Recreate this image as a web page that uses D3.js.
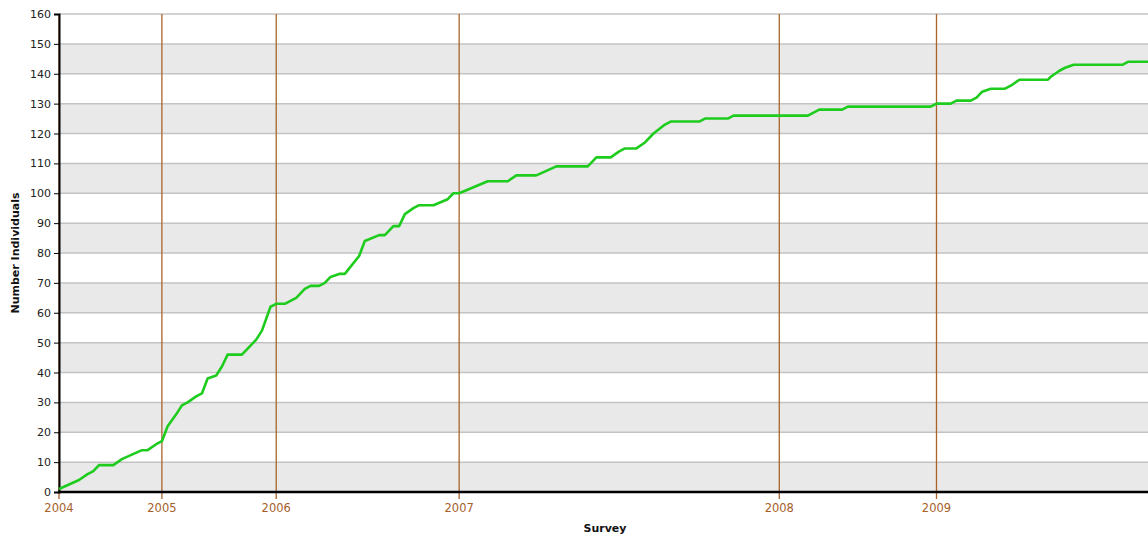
<!DOCTYPE html>
<html>
<head>
<meta charset="utf-8">
<script src="https://cdn.jsdelivr.net/npm/d3@7"></script>
<style>
  html, body { margin: 0; padding: 0; background: #fff; }
  svg { display: block; }
  text { font-family: "DejaVu Sans", Verdana, sans-serif; }
</style>
</head>
<body>
<svg id="chart" width="1148" height="540"></svg>
<script>
// Cumulative count of individuals, sampled at the surveys where the curve changes course
const surveyIndex = [0, 7, 10, 12, 14, 19, 22, 29, 31, 34, 36, 38, 41, 43, 45, 48, 50, 52, 55, 57,
  59, 64, 66, 69, 71, 74, 76, 79, 83, 86, 88, 91, 93, 95, 98, 100, 105, 107, 112, 114,
  117, 119, 121, 124, 126, 131, 136, 138, 140, 150, 157, 160, 167, 174, 185, 188, 193, 196, 198, 202,
  205, 208, 212, 214, 224, 226, 234, 236, 262, 266, 274, 276, 305, 307, 312, 314, 319, 321, 323, 326,
  331, 333, 336, 346, 347, 350, 352, 355, 372, 374, 381];
const individuals = [1, 4, 6, 7, 9, 9, 11, 14, 14, 16, 17, 22, 26, 29, 30, 32, 33, 38, 39, 42,
  46, 46, 48, 51, 54, 62, 63, 63, 65, 68, 69, 69, 70, 72, 73, 73, 79, 84, 86, 86,
  89, 89, 93, 95, 96, 96, 98, 100, 100, 104, 104, 106, 106, 109, 109, 112, 112, 114, 115, 115,
  117, 120, 123, 124, 124, 125, 125, 126, 126, 128, 128, 129, 129, 130, 130, 131, 131, 132, 134, 135,
  135, 136, 138, 138, 139, 141, 142, 143, 143, 144, 144];

// First survey of each year
const yearLabels = ["2004", "2005", "2006", "2007", "2008", "2009"];
const yearStart = [0, 36, 76, 140, 252, 307];

const yTicks = [0, 10, 20, 30, 40, 50, 60, 70, 80, 90, 100, 110, 120, 130, 140, 150, 160];
const lastSurvey = 381;

const margin = { left: 59, top: 14, right: 0, bottom: 48 };
const width = 1148, height = 540;
const svg = d3.select("#chart");

const x = d3.scaleLinear().domain([0, lastSurvey]).range([margin.left, width - margin.right]);
const y = d3.scaleLinear().domain([0, 160]).range([height - margin.bottom, margin.top]);

// alternating horizontal bands
const bands = d3.range(0, 160, 20);
svg.append("g").selectAll("rect").data(bands).join("rect")
  .attr("x", margin.left).attr("width", width - margin.left)
  .attr("y", d => y(d + 10)).attr("height", d => y(d) - y(d + 10))
  .attr("fill", "#e9e9e9");

// horizontal gridlines
svg.append("g").selectAll("line").data(yTicks.slice(1)).join("line")
  .attr("x1", margin.left).attr("x2", width)
  .attr("y1", d => y(d)).attr("y2", d => y(d))
  .attr("stroke", "#c3c3c3").attr("stroke-width", 1.5);

// year markers
const years = svg.append("g");
years.selectAll("line").data(yearStart).join("line")
  .attr("x1", d => x(d)).attr("x2", d => x(d))
  .attr("y1", margin.top).attr("y2", y(0) + 7)
  .attr("stroke", "#a8642c").attr("stroke-width", 1.3);
years.selectAll("text").data(yearStart).join("text")
  .attr("x", d => x(d)).attr("y", y(0) + 20)
  .attr("text-anchor", "middle")
  .attr("font-size", 11.5).attr("fill", "#a5602a")
  .text((d, i) => yearLabels[i]);

// y axis
const yAxis = svg.append("g")
  .attr("transform", `translate(${margin.left},0)`)
  .call(d3.axisLeft(y).tickValues(yTicks).tickSize(5).tickPadding(3));
yAxis.select(".domain").attr("stroke", "#000").attr("stroke-width", 2);
yAxis.selectAll(".tick line").attr("stroke", "#000");
yAxis.selectAll(".tick text")
  .attr("font-family", '"DejaVu Sans", Verdana, sans-serif')
  .attr("font-size", 11).attr("fill", "#222");

// x axis baseline
svg.append("line")
  .attr("x1", margin.left - 1).attr("x2", width)
  .attr("y1", y(0)).attr("y2", y(0))
  .attr("stroke", "#000").attr("stroke-width", 2.5);

// cumulative curve
const pts = surveyIndex.map((s, i) => [s, individuals[i]]);
svg.append("path")
  .datum(pts)
  .attr("fill", "none")
  .attr("stroke", "#1ecc1e")
  .attr("stroke-width", 2.6)
  .attr("stroke-linejoin", "round")
  .attr("d", d3.line().x(d => x(d[0])).y(d => y(d[1])));

// axis titles
svg.append("text")
  .attr("transform", `translate(19,${(margin.top + y(0)) / 2}) rotate(-90)`)
  .attr("text-anchor", "middle")
  .attr("font-size", 11).attr("font-weight", "bold").attr("fill", "#111")
  .text("Number Individuals");
svg.append("text")
  .attr("x", 605).attr("y", 532)
  .attr("text-anchor", "middle")
  .attr("font-size", 11).attr("font-weight", "bold").attr("fill", "#111")
  .text("Survey");
</script>
</body>
</html>
